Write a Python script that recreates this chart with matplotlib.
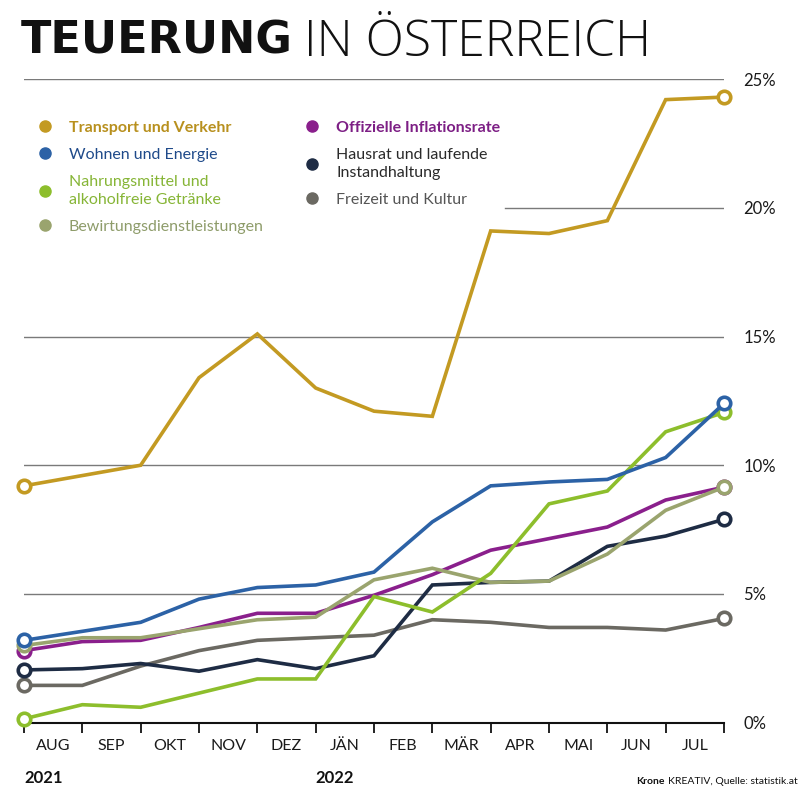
import numpy as np
import matplotlib
matplotlib.use("Agg")
import matplotlib.pyplot as plt
from matplotlib.lines import Line2D
import matplotlib.transforms as mtransforms

plt.rcParams['font.family'] = ['Lato', 'DejaVu Sans']

# Monatswerte Jul 2021 - Jul 2022 (Veränderung zum Vorjahresmonat, %)
monate = ['AUG', 'SEP', 'OKT', 'NOV', 'DEZ', 'JÄN', 'FEB', 'MÄR', 'APR', 'MAI', 'JUN', 'JUL']
transport = [9.2, 9.6, 10.0, 13.4, 15.1, 13.0, 12.1, 11.9, 19.1, 19.0, 19.5, 24.2, 24.3]
wohnen = [3.2, 3.55, 3.9, 4.8, 5.25, 5.35, 5.85, 7.8, 9.2, 9.35, 9.45, 10.3, 12.4]
nahrung = [0.15, 0.7, 0.6, 1.15, 1.7, 1.7, 4.9, 4.3, 5.8, 8.5, 9.0, 11.3, 12.05]
inflation = [2.8, 3.15, 3.2, 3.7, 4.25, 4.25, 4.95, 5.75, 6.7, 7.15, 7.6, 8.65, 9.15]
bewirtung = [3.0, 3.3, 3.3, 3.65, 4.0, 4.1, 5.55, 6.0, 5.45, 5.5, 6.55, 8.25, 9.15]
hausrat = [2.05, 2.1, 2.3, 2.0, 2.45, 2.1, 2.6, 5.35, 5.45, 5.5, 6.85, 7.25, 7.9]
freizeit = [1.45, 1.45, 2.2, 2.8, 3.2, 3.3, 3.4, 4.0, 3.9, 3.7, 3.7, 3.6, 4.05]

# (label, daten, linienfarbe, textfarbe)
serien = [
    ('Transport und Verkehr', transport, '#C39A22', '#B8901E'),
    ('Wohnen und Energie', wohnen, '#2C62A6', '#1F4A8A'),
    ('Nahrungsmittel und\nalkoholfreie Getränke', nahrung, '#8DBE2C', '#86B536'),
    ('Bewirtungsdienstleistungen', bewirtung, '#9AA46E', '#8E9C6A'),
    ('Offizielle Inflationsrate', inflation, '#8A1F8C', '#7D1F85'),
    ('Hausrat und laufende\nInstandhaltung', hausrat, '#1E2C44', '#2A2A2A'),
    ('Freizeit und Kultur', freizeit, '#6B6962', '#555555'),
]
zeichen_reihenfolge = [6, 5, 4, 3, 2, 1, 0]

fig = plt.figure(figsize=(8, 8), dpi=100)
ax = fig.add_axes([0.03, 0.0966, 0.875, 0.8046])

x = np.arange(len(transport))
for i, idx in enumerate(zeichen_reihenfolge):
    label, y, farbe, _ = serien[idx]
    ax.plot(x, y, color=farbe, lw=2.6, solid_joinstyle='miter', zorder=3 + i,
            marker='o', markevery=[0, len(y) - 1], markersize=9,
            markerfacecolor='white', markeredgecolor=farbe, markeredgewidth=2.6,
            clip_on=False)

# Gitterlinien (20% nur rechts der Legende)
for g in [5, 10, 15, 25]:
    ax.axhline(g, color='#7a7a7a', lw=1, zorder=1)
ax.axhline(20, xmin=0.687, color='#7a7a7a', lw=1, zorder=1)

ax.set_xlim(0, 12)
ax.set_ylim(0, 25)
for s in ['top', 'left', 'right']:
    ax.spines[s].set_visible(False)
ax.spines['bottom'].set_linewidth(1.5)
ax.spines['bottom'].set_color('#111111')
ax.spines['bottom'].set_zorder(2)

ax.set_xticks(x)
ax.set_xticklabels([])
ax.set_xticks(x[:-1] + 0.5, minor=True)
ax.set_xticklabels(monate, minor=True, fontsize=11.5, color='#1a1a1a')
ax.tick_params(axis='x', which='major', length=7, width=1.3, color='#111111', direction='out')
ax.tick_params(axis='x', which='minor', length=0, pad=12)

ax.yaxis.tick_right()
ax.set_yticks([0, 5, 10, 15, 20, 25])
ax.set_yticklabels(['0%', '5%', '10%', '15%', '20%', '25%'], fontsize=12, color='#1a1a1a')
ax.tick_params(axis='y', length=0, pad=14)

# Jahreszahlen unter der Achse
trans = mtransforms.blended_transform_factory(ax.transData, fig.transFigure)
ax.text(0, 1 - 778 / 800, '2021', transform=trans, fontsize=12, fontweight='bold',
        va='center', ha='left', color='#111111')
ax.text(5, 1 - 778 / 800, '2022', transform=trans, fontsize=12, fontweight='bold',
        va='center', ha='left', color='#111111')

# Legende
handles = []
for label, y, farbe, _ in serien:
    handles.append(Line2D([], [], linestyle='none', marker='o', markersize=8,
                          color=farbe, label=label))
leg = fig.legend(handles=handles, loc='upper left', bbox_to_anchor=(0.048, 0.849),
                 ncol=2, frameon=False, fontsize=11.5, handlelength=0.8,
                 handletextpad=1.1, columnspacing=2.65, labelspacing=0.8,
                 borderpad=0, borderaxespad=0)
for txt, s in zip(leg.get_texts(), serien):
    txt.set_color(s[3])
    txt.set_linespacing(1.35)
leg.get_texts()[0].set_fontweight('bold')
leg.get_texts()[4].set_fontweight('bold')

# Titel
t1 = fig.text(0.026, 1 - 37 / 800, 'TEUERUNG', fontsize=32, fontweight='bold',
              family='DejaVu Sans', va='center_baseline', ha='left', color='#111111')
fig.canvas.draw()
bb1 = t1.get_window_extent()
fig.text(bb1.x1 / 800 + 0.014, 1 - 37 / 800, 'IN ÖSTERREICH', fontsize=36, fontweight=300,
         family=['Open Sans', 'Lato'], va='center_baseline', ha='left', color='#111111')

# Quelle
quelle = fig.text(0.997, 1 - 781 / 800, 'KREATIV, Quelle: statistik.at', fontsize=7.5,
                  ha='right', va='center', color='#111111')
fig.canvas.draw()
bb = quelle.get_window_extent()
fig.text(bb.x0 / 800 - 0.004, 1 - 781 / 800, 'Krone', fontsize=7.5, fontweight='bold',
         ha='right', va='center', color='#111111')

fig.savefig('out.png', dpi=100)
